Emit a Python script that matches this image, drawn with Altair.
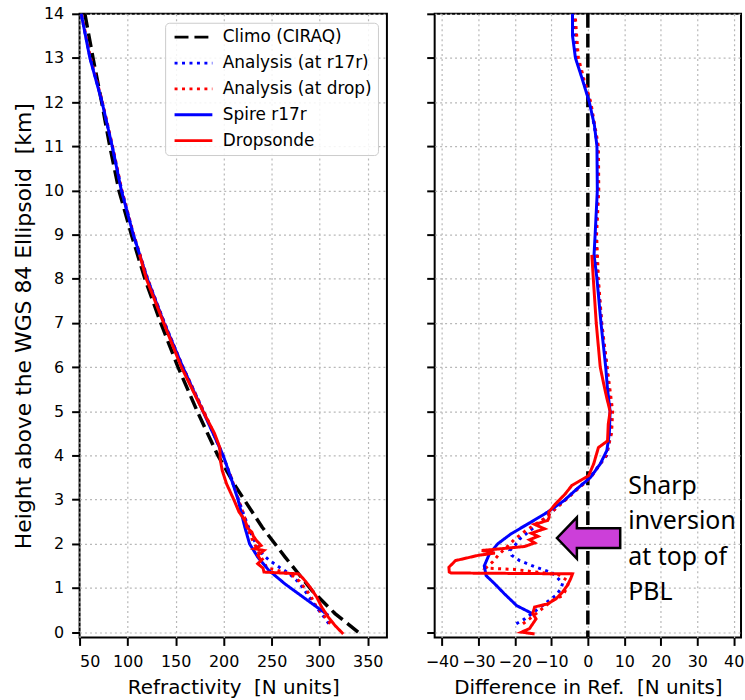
import altair as alt
import pandas as pd

SERIES = ["Climo (CIRAQ)", "Analysis (at r17r)", "Analysis (at drop)", "Spire r17r", "Dropsonde"]
COLORS = ["#000000", "#0000ff", "#ff0000", "#0000ff", "#ff0000"]
DASHES = [[14, 6], [3, 4.5], [3, 4.5], [1, 0], [1, 0]]

# ---------------- left panel: refractivity profiles ----------------
climo_z = [0.0, 0.42, 0.94, 1.7, 2.38, 3.28, 4.0, 5.0, 6.0, 7.0, 8.0, 9.0, 10.0, 11.0, 12.0, 13.0, 14.0]
climo_n = [340, 316, 292, 264, 240, 213, 194, 172.5, 152.5, 134.5, 118, 104, 91, 81.5, 73, 64, 55.5]

spire_z = [0.38, 0.49, 0.79, 1.09, 1.4, 1.7, 2.0, 2.38, 3.0, 3.5, 4.0, 5.0, 6.0, 7.0, 8.0, 9.0, 10.0, 11.0, 12.0, 13.0, 14.0]
spire_n = [309, 302, 283, 264, 247, 235.5, 227, 222, 215, 207.5, 199.5, 178.5, 157.5, 138, 120.5, 106, 93.5, 84, 73.4, 60.7, 51.7]

drop_z = [8.55, 8.0, 7.0, 6.0, 5.0, 4.5, 4.18, 3.9, 3.66, 3.36, 2.98, 2.72, 2.6, 2.49, 2.38, 2.26, 2.17, 2.08,
          1.96, 1.89, 1.85, 1.74, 1.62, 1.55, 1.45, 1.36, 1.32, 1.21, 1.02, 0.79, 0.57, 0.34, 0.15, -0.04]
drop_n = [112.5, 119.5, 137.5, 156, 178.5, 190.5, 196, 196.5, 198.5, 203, 211, 216, 220, 223, 224, 229.5, 231, 234,
          239, 232, 242, 235.5, 239, 235.5, 241, 242, 278, 283, 290, 297, 302, 309, 316, 324.5]

anr_z = [0.19, 0.3, 0.58, 0.83, 1.0, 1.11, 1.34, 1.47, 1.62, 1.74, 1.85, 1.96, 2.11, 2.26, 2.57, 3.0, 3.5, 4.0,
         5.0, 6.0, 7.0, 8.0, 9.0, 10.0, 11.0, 12.0, 13.0, 14.0]
anr_n = [309.5, 306, 296, 288, 282.5, 279, 267.5, 258, 248, 241.5, 237.5, 235, 231, 228, 222.5, 215.5, 207.5, 199.5,
         179, 157.5, 138.5, 120.5, 106, 94, 84, 73.5, 61, 51.7]

and_z = [0.19, 0.3, 0.6, 0.72, 0.83, 1.02, 1.15, 1.3, 1.34, 1.42, 1.45, 1.6, 1.75, 1.92, 2.11, 2.3, 2.57, 3.0, 3.5,
         4.0, 4.5, 5.0, 6.0, 7.0, 8.0, 9.0, 10.0, 11.0, 12.0, 13.0, 14.0]
and_n = [311, 307, 296, 293, 290.5, 283.5, 279, 270.7, 265, 253, 245, 241.7, 237.7, 234, 229.5, 225.8, 222.3, 215.4, 208,
         199, 189.8, 179.3, 157.8, 138.3, 121, 106.4, 94, 84.4, 73.8, 61.4, 52]

# ---------------- right panel: differences from climatology ----------------
d_anr_z = [0.19, 0.3, 0.58, 0.72, 0.83, 0.98, 1.11, 1.34, 1.47, 1.62, 1.74, 1.85, 1.96, 2.11, 2.26, 2.57, 3.0, 3.5,
           4.0, 4.5, 5.0, 6.0, 7.0, 8.0, 9.0, 10.0, 11.0, 12.0, 12.5, 13.0, 14.0]
d_anr_x = [-19.6, -17.3, -12.8, -10.6, -8.8, -7.4, -6.9, -9.7, -14.2, -18.7, -20.9, -21.4, -20.0, -18.7, -16.4, -11.9,
           -6.2, 0.5, 5.2, 6.3, 6.3, 5.2, 3.8, 2.7, 2.2, 2.8, 2.7, 0.6, -1.3, -3.0, -3.8]

d_and_z = [0.19, 0.3, 0.6, 0.72, 0.83, 1.02, 1.15, 1.3, 1.34, 1.42, 1.45, 1.6, 1.75, 1.92, 2.11, 2.3, 2.57, 3.0, 3.5,
           4.0, 4.5, 5.0, 6.0, 7.0, 8.0, 9.0, 10.0, 11.0, 12.0, 12.5, 13.0, 14.0]
d_and_x = [-17.8, -16.0, -11.5, -9.7, -6.9, -5.6, -5.3, -8.0, -12.0, -20.0, -28.0, -26.0, -24.5, -22.3, -20.0, -17.0,
           -12.0, -6.0, 0.8, 5.0, 6.5, 6.8, 5.3, 3.8, 2.9, 2.4, 3.0, 2.9, 0.8, -1.0, -2.6, -3.5]

d_sp_z = [0.42, 0.6, 0.87, 1.1, 1.28, 1.5, 1.77, 2.0, 2.23, 2.49, 2.72, 2.98, 3.25, 3.5, 3.81, 4.11, 4.5, 5.0, 5.5,
          6.0, 7.0, 8.0, 8.54, 9.0, 10.0, 11.0, 11.48, 12.0, 12.54, 13.0, 13.5, 14.0]
d_sp_x = [-15.2, -19.5, -22.9, -25.6, -27.9, -28.4, -27.0, -24.7, -21.0, -15.6, -11.0, -6.5, -2.9, 0.7, 3.4, 5.2, 5.9,
          6.1, 5.4, 4.9, 3.6, 2.5, 1.7, 2.0, 2.6, 2.5, 1.8, 0.4, -1.6, -3.4, -4.2, -4.2]

d_dr_z = [8.54, 8.0, 7.0, 6.0, 5.6, 5.3, 5.0, 4.71, 4.33, 4.18, 3.81, 3.54, 3.43, 3.32, 3.13, 2.9, 2.72, 2.6, 2.53,
          2.44, 2.34, 2.24, 2.17, 2.09, 2.02, 1.94, 1.89, 1.85, 1.79, 1.74, 1.62, 1.56, 1.47, 1.36, 1.34, 1.32, 1.21,
          1.06, 0.91, 0.75, 0.64, 0.57, 0.42, 0.30, 0.19, 0.08, 0.0, -0.04]
d_dr_x = [1.1, 1.5, 2.3, 3.4, 4.4, 5.2, 6.1, 5.6, 5.4, 2.9, 1.6, 0.2, -2.1, -4.4, -6.2, -8.9, -10.7, -10.6, -11.0,
          -14.6, -11.9, -15.5, -13.7, -16.0, -14.6, -17.3, -23.6, -29.1, -25.5, -30.0, -36.3, -37.0, -38.1, -38.0,
          -37.5, -4.2, -4.7, -5.6, -6.9, -8.8, -11.0, -14.6, -15.1, -14.2, -15.1, -16.0, -18.2, -14.6]

zero_line = [0]
arrow_x = [0.2]
arrow_z = [2.13]
note_x = [11.1]
note_z = [3.13]
note_text = ["Sharp\ninversion\nat top of\nPBL"]

X_TICKS_L = [50, 100, 150, 200, 250, 300, 350]
X_TICKS_R = [-40, -30, -20, -10, 0, 10, 20, 30, 40]
Y_TICKS = list(range(0, 15))


def frame(pairs):
    rows = []
    for name, zs, vs in pairs:
        for i, (z, v) in enumerate(zip(zs, vs)):
            rows.append({"series": name, "z": z, "v": v, "idx": i})
    return pd.DataFrame(rows)


left_df = frame([
    (SERIES[0], climo_z, climo_n),
    (SERIES[1], anr_z, anr_n),
    (SERIES[2], and_z, and_n),
    (SERIES[3], spire_z, spire_n),
    (SERIES[4], drop_z, drop_n),
])
right_df = frame([
    (SERIES[1], d_anr_z, d_anr_x),
    (SERIES[2], d_and_z, d_and_x),
    (SERIES[3], d_sp_z, d_sp_x),
    (SERIES[4], d_dr_z, d_dr_x),
])

FONT = "DejaVu Sans"
H = 627

yscale = alt.Scale(domain=[-0.12, 14], nice=False, zero=False)

legend = alt.Legend(
    title=None, orient="top-right", offset=9,
    symbolType="M-3.8,0H3.8", symbolSize=100, symbolOffset=14, labelOffset=21,
    symbolStrokeWidth=2.8, labelFont=FONT, labelFontSize=17, labelColor="black",
    fillColor="rgba(255,255,255,0.85)", strokeColor="#cccccc", padding=6, cornerRadius=4,
    rowPadding=8, labelLimit=400,
)
color_l = alt.Color("series:N", scale=alt.Scale(domain=SERIES, range=COLORS), legend=legend)
dash_l = alt.StrokeDash("series:N", scale=alt.Scale(domain=SERIES, range=DASHES), legend=legend)

xl = alt.X("v:Q", scale=alt.Scale(domain=[50, 370], nice=False, zero=False),
           axis=alt.Axis(values=X_TICKS_L, title="Refractivity\u00a0 [N units]", titleFontSize=20,
                         labelOverlap=False))
yl = alt.Y("z:Q", scale=yscale,
           axis=alt.Axis(values=Y_TICKS, title="Height above the WGS 84 Ellipsoid\u00a0 [km]", titleFontSize=22,
                         labelOverlap=False))

base_l = alt.Chart(left_df).encode(x=xl, y=yl, color=color_l, strokeDash=dash_l, order=alt.Order("idx:Q"))
left = alt.layer(
    base_l.transform_filter(alt.datum.series == SERIES[0]).mark_line(strokeWidth=3.5),
    base_l.transform_filter((alt.datum.series == SERIES[1]) | (alt.datum.series == SERIES[2])).mark_line(strokeWidth=3),
    base_l.transform_filter((alt.datum.series == SERIES[3]) | (alt.datum.series == SERIES[4])).mark_line(strokeWidth=3),
).properties(width=309, height=H)

color_r = alt.Color("series:N", scale=alt.Scale(domain=SERIES, range=COLORS), legend=None)
dash_r = alt.StrokeDash("series:N", scale=alt.Scale(domain=SERIES, range=DASHES), legend=None)
xr = alt.X("v:Q", scale=alt.Scale(domain=[-42, 42], nice=False, zero=False),
           axis=alt.Axis(values=X_TICKS_R, title="Difference in Ref.\u00a0 [N units]", titleFontSize=20,
                         labelOverlap=False))
yr = alt.Y("z:Q", scale=yscale, axis=alt.Axis(values=Y_TICKS, labels=False, title=None))

zero_df = pd.DataFrame({"v": zero_line})
zero_rule = alt.Chart(zero_df).mark_rule(color="black", strokeWidth=3.5, strokeDash=[14, 6]).encode(x=xr)

base_r = alt.Chart(right_df).encode(x=xr, y=yr, color=color_r, strokeDash=dash_r, order=alt.Order("idx:Q"))
arrow_df = pd.DataFrame({"v": arrow_x, "z": arrow_z})
arrow = alt.Chart(arrow_df).mark_point(
    shape="M-1,0L-0.37,-0.654L-0.37,-0.314L1,-0.314L1,0.314L-0.37,0.314L-0.37,0.654Z",
    size=4045, filled=True, fill="#cc3fd9", stroke="black", strokeWidth=2.5, opacity=1,
).encode(x=xr, y=yr)
note_df = pd.DataFrame({"v": note_x, "z": note_z, "t": note_text})
note = alt.Chart(note_df).mark_text(
    align="left", baseline="alphabetic", font="Noto Sans", fontSize=25, lineHeight=35.5, lineBreak="\n", color="black",
).encode(x=xr, y=yr, text="t:N")

right = alt.layer(
    zero_rule,
    base_r.transform_filter((alt.datum.series == SERIES[1]) | (alt.datum.series == SERIES[2])).mark_line(strokeWidth=3),
    base_r.transform_filter((alt.datum.series == SERIES[3]) | (alt.datum.series == SERIES[4])).mark_line(strokeWidth=3),
    arrow,
    note,
).properties(width=308, height=H)

chart = alt.hconcat(left, right, spacing=36).resolve_scale(
    color="independent", strokeDash="independent"
).resolve_legend(color="independent", strokeDash="independent").properties(
    padding={"left": 11, "top": 3, "right": 0, "bottom": 0}
).configure_view(stroke="black", strokeWidth=2).configure_axis(
    labelFont=FONT, labelFontSize=16, labelColor="black", titleFont=FONT, titleFontWeight="normal",
    titleColor="black", domain=False, tickColor="black", tickWidth=2, tickSize=8, labelPadding=8,
    titlePadding=8, gridColor="#b8b8b8", gridDash=[2, 3], gridWidth=1.2, labelOverlap=False,
)

chart.save("out.html", embed_options={"renderer": "svg", "actions": False})
